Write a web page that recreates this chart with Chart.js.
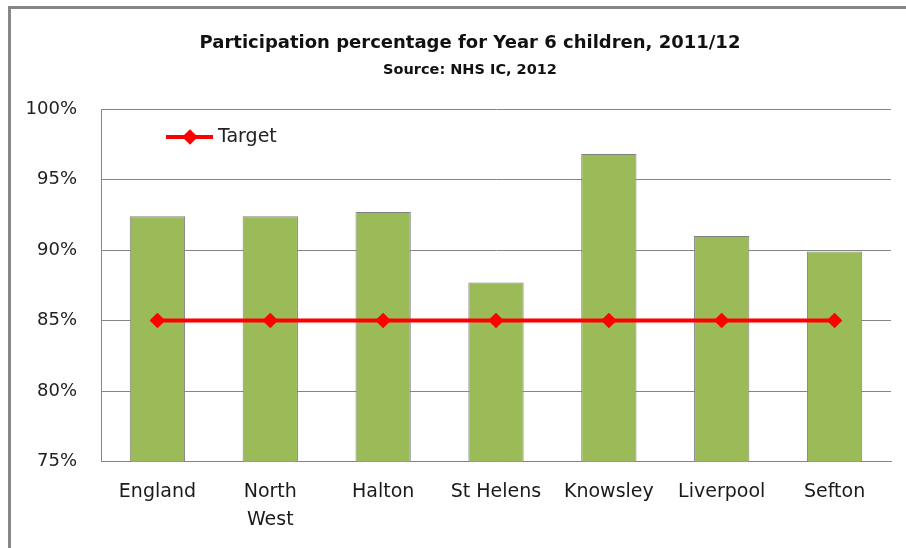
<!DOCTYPE html>
<html lang="en">
<head>
    <meta charset="UTF-8">
    <title>Year 6 participation</title>
    <script src="https://cdn.jsdelivr.net/npm/chart.js"></script>
    <style>
        body { margin: 0; background: #fff; }
        .wrap { position: relative; width: 906px; height: 548px; }
        .frame {
            position: absolute; left: 8px; top: 6px; right: 0; bottom: 0;
            border-left: 3px solid #878787; border-top: 3px solid #878787;
        }
        canvas { position: absolute; left: 0; top: 0; }
    </style>
</head>
<body>
    <div class="wrap">
        <div class="frame"></div>
        <canvas id="chart" width="906" height="548"></canvas>
    </div>

    <script>
        const title = 'Participation percentage for Year 6 children, 2011/12';
        const subtitle = 'Source: NHS IC, 2012';
        const areas = ['England', ['North', 'West'], 'Halton', 'St Helens', 'Knowsley', 'Liverpool', 'Sefton'];
        const participation = [92.4, 92.4, 92.7, 87.7, 96.8, 91.0, 89.9];
        const target = [85, 85, 85, 85, 85, 85, 85];
        const yTicks = [75, 80, 85, 90, 95, 100];

        const FONT = "'DejaVu Sans', 'Liberation Sans', sans-serif";
        const GRID = '#868686';

        // heading block, centred a little right of the canvas middle
        const headings = {
            id: 'headings',
            afterDraw(chart) {
                const ctx = chart.ctx;
                ctx.save();
                ctx.fillStyle = '#111';
                ctx.textAlign = 'center';
                ctx.textBaseline = 'middle';
                ctx.font = 'bold 18px ' + FONT;
                ctx.fillText(title, 470, 43);
                ctx.font = 'bold 14.5px ' + FONT;
                ctx.fillText(subtitle, 470, 70);
                ctx.restore();
            }
        };

        // legend for the target line, drawn inside the plot area
        const targetLegend = {
            id: 'targetLegend',
            afterDraw(chart) {
                const ds = chart.data.datasets[1];
                const ctx = chart.ctx;
                const x0 = chart.chartArea.left + 65;
                const y = chart.chartArea.top + 28;
                ctx.save();
                ctx.strokeStyle = ds.borderColor;
                ctx.lineWidth = ds.borderWidth;
                ctx.beginPath();
                ctx.moveTo(x0, y);
                ctx.lineTo(x0 + 47, y);
                ctx.stroke();
                ctx.fillStyle = ds.pointBackgroundColor;
                ctx.strokeStyle = ds.pointBorderColor;
                Chart.helpers.drawPoint(ctx, {
                    pointStyle: ds.pointStyle, radius: ds.pointRadius, borderWidth: 1
                }, x0 + 24, y);
                ctx.fillStyle = '#222';
                ctx.font = '19px ' + FONT;
                ctx.textBaseline = 'middle';
                ctx.textAlign = 'left';
                ctx.fillText(ds.label, x0 + 52, y);
                ctx.restore();
            }
        };

        new Chart(document.getElementById('chart'), {
            type: 'bar',
            data: {
                labels: areas,
                datasets: [{
                    label: 'Participation',
                    data: participation,
                    backgroundColor: '#9BBB59',
                    borderColor: '#808080',
                    borderWidth: 1,
                    categoryPercentage: 1,
                    barPercentage: 0.49,
                    order: 1
                }, {
                    type: 'line',
                    label: 'Target',
                    data: target,
                    borderColor: '#FF0000',
                    backgroundColor: '#FF0000',
                    pointBackgroundColor: '#FF0000',
                    pointBorderColor: '#FF0000',
                    borderWidth: 4,
                    pointStyle: 'rectRot',
                    pointRadius: 5,
                    order: 0
                }]
            },
            options: {
                responsive: false,
                animation: false,
                layout: { padding: { left: 0, right: 15, top: 109, bottom: 0 } },
                plugins: {
                    legend: { display: false },
                    tooltip: { enabled: false },
                    title: { display: false }
                },
                scales: {
                    x: {
                        grid: { display: false, drawTicks: false },
                        border: { display: true, color: GRID, width: 1 },
                        ticks: {
                            color: '#1a1a1a',
                            padding: 17,
                            maxRotation: 0,
                            autoSkip: false,
                            font: { family: FONT, size: 19, lineHeight: 1.45 }
                        },
                        afterFit(scale) { scale.height = 86.5; }
                    },
                    y: {
                        min: 75,
                        max: 100,
                        afterBuildTicks(scale) {
                            scale.ticks = yTicks.map(v => ({ value: v }));
                        },
                        grid: { color: GRID, lineWidth: 1, drawTicks: false },
                        border: { display: true, color: GRID, width: 1 },
                        ticks: {
                            color: '#222',
                            padding: 24,
                            font: { family: FONT, size: 18 },
                            callback: v => v + '%'
                        },
                        afterFit(scale) { scale.width = 101; }
                    }
                }
            },
            plugins: [headings, targetLegend]
        });
    </script>
</body>
</html>
